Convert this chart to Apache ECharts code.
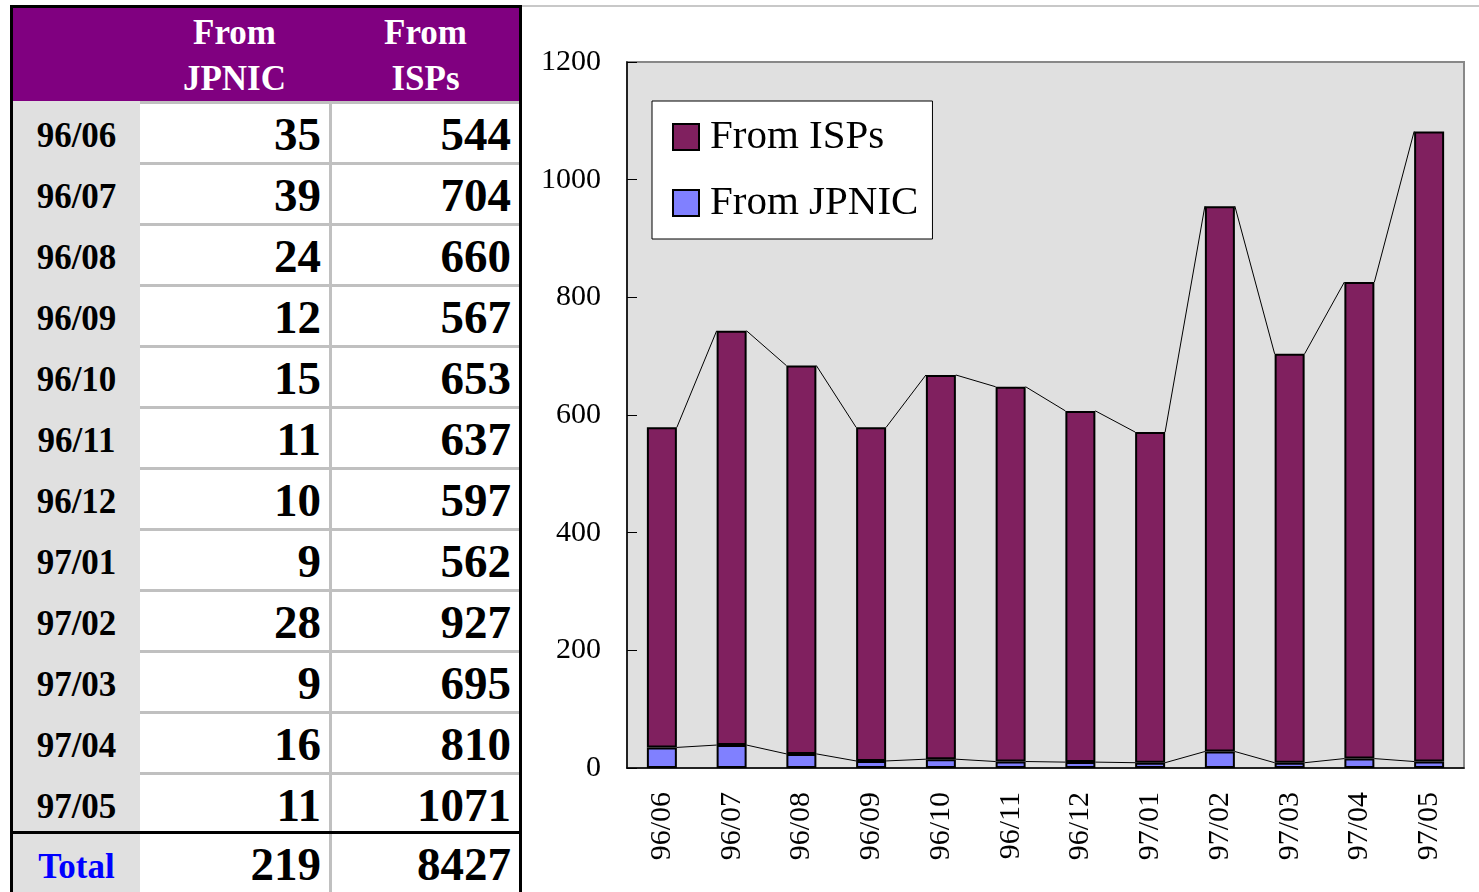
<!DOCTYPE html>
<html>
<head>
<meta charset="utf-8">
<script src="https://cdn.jsdelivr.net/npm/echarts@6/dist/echarts.min.js"></script>
<style>
body { margin: 0; background: #fff; }
#chart { position: absolute; left: 0; top: 0; width: 1479px; height: 892px; }
#table { position: absolute; left: 0; top: 0; width: 523px; height: 892px; overflow: hidden;
  font-family: 'Liberation Serif', 'Times New Roman', serif; font-weight: bold; }
#table div { position: absolute; box-sizing: border-box; }
.num { text-align: right; font-size: 47px; line-height: 60px; padding-right: 8px; color: #000; }
.date { text-align: center; font-size: 35px; line-height: 70px; color: #000; }
.head { color: #fff; font-size: 35px; line-height: 46px; text-align: center; }
</style>
</head>
<body>
<div id="chart"></div>
<div id="table"></div>
<script>
// table / chart data
const months = ['96/06', '96/07', '96/08', '96/09', '96/10', '96/11', '96/12', '97/01', '97/02', '97/03', '97/04', '97/05']
const fromJpnic = [35, 39, 24, 12, 15, 11, 10, 9, 28, 9, 16, 11]
const fromIsps = [544, 704, 660, 567, 653, 637, 597, 562, 927, 695, 810, 1071]
const colNames = ['From<br>JPNIC', 'From<br>ISPs']
const yMin = 0
const yMax = 1200
const yStep = 200

const sum = arr => arr.reduce((a, b) => a + b, 0)

// ---- table on the left ----
function cell (cls, left, top, width, height, html, css) {
  const d = document.createElement('div')
  d.className = cls
  d.style.left = left + 'px'
  d.style.top = top + 'px'
  d.style.width = width + 'px'
  d.style.height = height + 'px'
  if (css) Object.assign(d.style, css)
  d.innerHTML = html
  document.getElementById('table').appendChild(d)
}

const rowTop = 101
const rowH = 61
// borders + header
cell('', 10, 5, 512, 900, '', { background: '#000' })
cell('', 13, 8, 506, 900, '', { background: '#c0c0c0' })
cell('head', 13, 8, 506, 93, '', { background: '#800080' })
cell('head', 140, 10, 189, 92, colNames[0])
cell('head', 332, 10, 187, 92, colNames[1])
months.forEach((m, i) => {
  const t = rowTop + i * rowH
  cell('date', 13, t, 127, rowH, m, { background: '#e0e0e0' })
  cell('num', 140, t + 3, 189, rowH - 3, fromJpnic[i], { background: '#fff' })
  cell('num', 332, t + 3, 187, rowH - 3, fromIsps[i], { background: '#fff' })
})
const totTop = rowTop + months.length * rowH
cell('', 13, totTop - 2, 506, 3, '', { background: '#000' })
cell('date', 13, totTop + 1, 127, 80, 'Total', { background: '#e0e0e0', color: '#0000ff', lineHeight: '66px' })
cell('num', 140, totTop + 1, 189, 80, sum(fromJpnic), { background: '#fff' })
cell('num', 332, totTop + 1, 187, 80, sum(fromIsps), { background: '#fff' })

// ---- chart on the right ----
const chart = echarts.init(document.getElementById('chart'))
const font = "'Liberation Serif', 'Times New Roman', serif"
const ispTops = fromIsps.map((v, i) => v + fromJpnic[i])
const linkData = (tops) => tops.slice(0, -1).map((v, i) => [i, v, tops[i + 1]])

// excel style "series lines" between the stacked bars
function seriesLine (params, api) {
  const i = api.value(0)
  const p1 = api.coord([i, api.value(1)])
  const p2 = api.coord([i + 1, api.value(2)])
  const half = api.size([1, 0])[0] * 0.43 / 2
  return {
    type: 'line',
    shape: { x1: p1[0] + half, y1: p1[1], x2: p2[0] - half, y2: p2[1] },
    style: { stroke: '#000', lineWidth: 1 }
  }
}

chart.setOption({
  animation: false,
  graphic: [
    { type: 'rect', shape: { x: 522, y: 5, width: 957, height: 2 }, style: { fill: '#c8c8c8' } }
  ],
  grid: {
    left: 627, top: 62, width: 837, height: 706,
    show: true, backgroundColor: '#e0e0e0', borderColor: '#888', borderWidth: 2
  },
  legend: {
    data: [
      { name: 'From ISPs', itemStyle: { borderColor: '#000', borderWidth: 2 } },
      { name: 'From JPNIC', itemStyle: { borderColor: '#000', borderWidth: 2 } }
    ],
    orient: 'vertical',
    left: 652,
    top: 101,
    icon: 'rect',
    itemWidth: 26,
    itemHeight: 26,
    itemGap: 24,
    padding: [15, 14, 15, 20],
    backgroundColor: '#fff',
    borderColor: '#000',
    borderWidth: 1,
    textStyle: { fontFamily: font, fontSize: 41, color: '#000', lineHeight: 42, padding: [0, 0, 0, 6] }
  },
  xAxis: {
    type: 'category',
    data: months,
    axisLine: { lineStyle: { color: '#000', width: 1.5 } },
    axisTick: { inside: true, length: 10, lineStyle: { color: '#000' } },
    axisLabel: { rotate: 90, margin: 24, fontFamily: font, fontSize: 30, color: '#000' }
  },
  yAxis: {
    type: 'value',
    min: yMin,
    max: yMax,
    interval: yStep,
    axisLine: { show: true, lineStyle: { color: '#000', width: 1.5 } },
    axisTick: { show: true, inside: true, length: 10, lineStyle: { color: '#000' } },
    axisLabel: { margin: 26, fontFamily: font, fontSize: 30, color: '#000', formatter: v => String(v), padding: [6, 0, 0, 0] },
    splitLine: { show: false }
  },
  series: [
    {
      name: 'From JPNIC',
      type: 'bar',
      stack: 'all',
      barWidth: '43%',
      data: fromJpnic,
      itemStyle: { color: '#8080ff', borderColor: '#000', borderWidth: 2 }
    },
    {
      name: 'From ISPs',
      type: 'bar',
      stack: 'all',
      barWidth: '43%',
      data: fromIsps,
      itemStyle: { color: '#80205f', borderColor: '#000', borderWidth: 2 }
    },
    {
      type: 'custom',
      renderItem: seriesLine,
      encode: { x: 0, y: [1, 2] },
      data: linkData(fromJpnic),
      z: 1
    },
    {
      type: 'custom',
      renderItem: seriesLine,
      encode: { x: 0, y: [1, 2] },
      data: linkData(ispTops),
      z: 1
    }
  ]
})
</script>
</body>
</html>
